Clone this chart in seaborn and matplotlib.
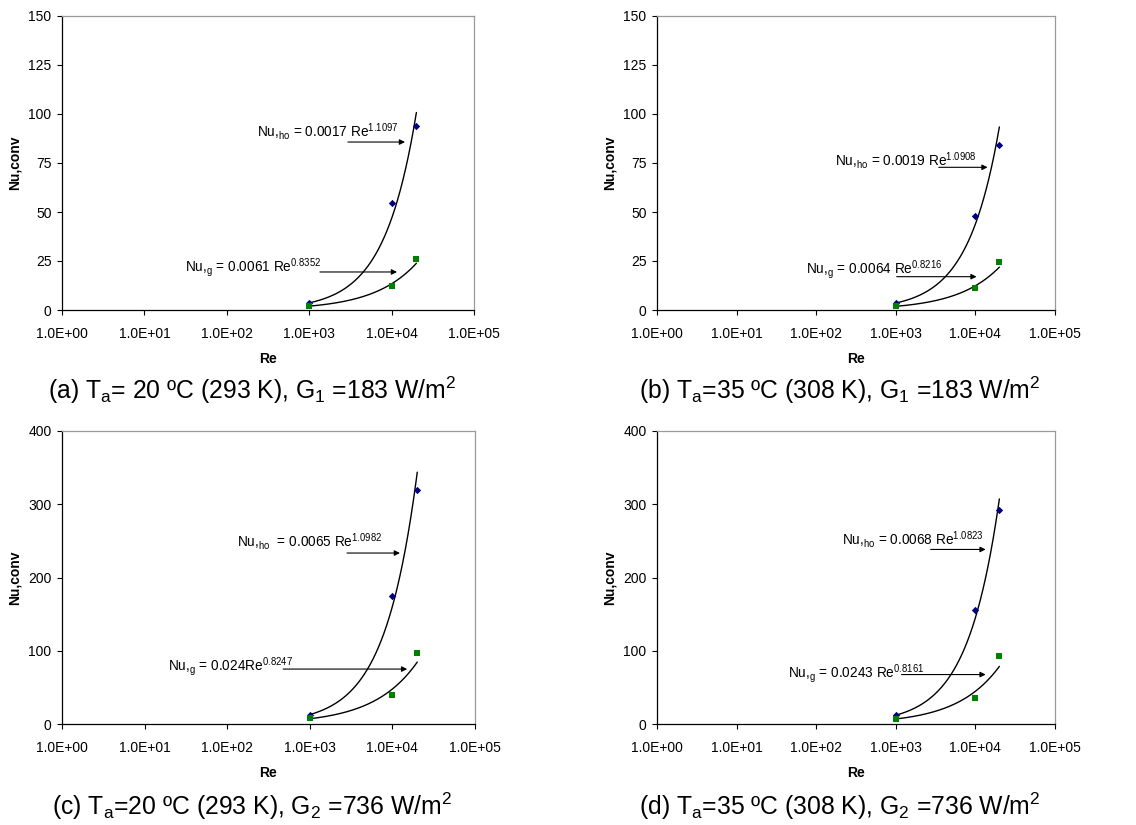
import numpy as np
import pandas as pd
import matplotlib
matplotlib.use("Agg")
import matplotlib.pyplot as plt
from matplotlib.ticker import FixedLocator, FuncFormatter, NullLocator
import seaborn as sns

# Measured Reynolds numbers
re_points = [1000, 10000, 20000]

# Convective Nusselt numbers: (a) Ta=20 C G1, (b) Ta=35 C G1, (c) Ta=20 C G2, (d) Ta=35 C G2
nu_ho_a = [3.5, 54.5, 94.0]
nu_g_a = [2.0, 12.0, 26.0]
nu_ho_b = [3.5, 48.0, 84.0]
nu_g_b = [2.0, 11.0, 24.5]
nu_ho_c = [12.0, 175.0, 320.0]
nu_g_c = [8.0, 40.0, 97.0]
nu_ho_d = [12.0, 155.0, 292.0]
nu_g_d = [7.0, 36.0, 93.0]

# Power-law fits Nu = a * Re^b
fit_ho_a = [0.0017, 1.1097]
fit_g_a = [0.0061, 0.8352]
fit_ho_b = [0.0019, 1.0908]
fit_g_b = [0.0064, 0.8216]
fit_ho_c = [0.0065, 1.0982]
fit_g_c = [0.024, 0.8247]
fit_ho_d = [0.0068, 1.0823]
fit_g_d = [0.0243, 0.8161]

x_ticks = [1e0, 1e1, 1e2, 1e3, 1e4, 1e5]
y_ticks_g1 = [0, 25, 50, 75, 100, 125, 150]
y_ticks_g2 = [0, 100, 200, 300, 400]

captions = [
    r"(a) T$_\mathregular{a}$= 20 ºC (293 K), G$_\mathregular{1}$ =183 W/m$^\mathregular{2}$",
    r"(b) T$_\mathregular{a}$=35 ºC (308 K), G$_\mathregular{1}$ =183 W/m$^\mathregular{2}$",
    r"(c) T$_\mathregular{a}$=20 ºC (293 K), G$_\mathregular{2}$ =736 W/m$^\mathregular{2}$",
    r"(d) T$_\mathregular{a}$=35 ºC (308 K), G$_\mathregular{2}$ =736 W/m$^\mathregular{2}$",
]

sns.set_style("ticks")
plt.rcParams["font.family"] = ["Liberation Sans", "DejaVu Sans"]
plt.rcParams["mathtext.fontset"] = "custom"
plt.rcParams["mathtext.rm"] = "Liberation Sans"
plt.rcParams["mathtext.it"] = "Liberation Sans:italic"
plt.rcParams["mathtext.bf"] = "Liberation Sans:bold"
plt.rcParams["text.color"] = "black"
plt.rcParams["axes.labelcolor"] = "black"
plt.rcParams["xtick.color"] = "black"
plt.rcParams["ytick.color"] = "black"

W, H = 1136, 825
fig = plt.figure(figsize=(W / 100, H / 100), dpi=100)
fig.patch.set_facecolor("white")

def px_axes(left, top, right, bottom):
    return fig.add_axes([left / W, 1 - bottom / H, (right - left) / W, (bottom - top) / H])

panels = [
    dict(box=(62, 16, 474, 310), ho=nu_ho_a, g=nu_g_a, fho=fit_ho_a, fg=fit_g_a, yticks=y_ticks_g1,
         ho_fmt="Nu,$_\\mathregular{{ho}}$ = {a} Re$^\\mathregular{{{b}}}$",
         g_fmt="Nu,$_\\mathregular{{g}}$ = {a} Re$^\\mathregular{{{b}}}$",
         ho_txt=(10**2.37, 88.4), ho_arr=((2950, 85.7), (14550, 85.7)),
         g_txt=(10**1.49, 19.6), g_arr=((1350, 19.4), (11640, 19.4)),
         cap=(252, 399)),
    dict(box=(657, 16, 1055, 310), ho=nu_ho_b, g=nu_g_b, fho=fit_ho_b, fg=fit_g_b, yticks=y_ticks_g1,
         ho_fmt="Nu,$_\\mathregular{{ho}}$ = {a} Re$^\\mathregular{{{b}}}$",
         g_fmt="Nu,$_\\mathregular{{g}}$ = {a} Re$^\\mathregular{{{b}}}$",
         ho_txt=(10**2.23, 73.6), ho_arr=((3460, 72.8), (14220, 72.8)),
         g_txt=(10**1.87, 18.7), g_arr=((1025, 17.0), (10350, 17.0)),
         cap=(840, 399)),
    dict(box=(62, 431, 475, 724), ho=nu_ho_c, g=nu_g_c, fho=fit_ho_c, fg=fit_g_c, yticks=y_ticks_g2,
         ho_fmt="Nu,$_\\mathregular{{ho}}$  = {a} Re$^\\mathregular{{{b}}}$",
         g_fmt="Nu,$_\\mathregular{{g}}$ = {a}Re$^\\mathregular{{{b}}}$",
         ho_txt=(10**2.12, 242.5), ho_arr=((2820, 233.4), (12340, 233.4)),
         g_txt=(10**1.28, 72.7), g_arr=((475, 75.0), (15100, 75.0)),
         cap=(252, 815)),
    dict(box=(657, 431, 1055, 724), ho=nu_ho_d, g=nu_g_d, fho=fit_ho_d, fg=fit_g_d, yticks=y_ticks_g2,
         ho_fmt="Nu,$_\\mathregular{{ho}}$ = {a} Re$^\\mathregular{{{b}}}$",
         g_fmt="Nu,$_\\mathregular{{g}}$ = {a} Re$^\\mathregular{{{b}}}$",
         ho_txt=(10**2.33, 245.2), ho_arr=((2740, 238.3), (13450, 238.3)),
         g_txt=(10**1.64, 63.4), g_arr=((1180, 67.5), (13450, 67.5)),
         cap=(840, 815)),
]

navy = "#000080"
green = "#008000"

for p, cap in zip(panels, captions):
    ax = px_axes(*p["box"])
    ax.set_facecolor("white")

    # Fitted power-law curves over the measured range
    re_fit = np.geomspace(re_points[0], re_points[-1], 200)
    for a, b in (p["fho"], p["fg"]):
        sns.lineplot(x=re_fit, y=a * re_fit ** b, ax=ax, color="black", lw=1.0,
                     estimator=None, sort=False)

    pts = pd.DataFrame({"Re": re_points, "ho": p["ho"], "g": p["g"]})
    sns.scatterplot(data=pts, x="Re", y="ho", ax=ax, marker="D", color=navy, s=14,
                    linewidth=0, zorder=3)
    sns.scatterplot(data=pts, x="Re", y="g", ax=ax, marker="s", color=green, s=22,
                    linewidth=0, zorder=3)

    ax.set_xscale("log")
    ax.set_xlim(x_ticks[0], x_ticks[-1])
    ax.set_ylim(p["yticks"][0], p["yticks"][-1])
    ax.xaxis.set_major_locator(FixedLocator(x_ticks))
    ax.xaxis.set_minor_locator(NullLocator())
    ax.xaxis.set_major_formatter(FuncFormatter(lambda v, pos: f"{v:.1E}"))
    ax.set_yticks(p["yticks"])
    ax.tick_params(axis="both", direction="out", length=3.5, width=0.8, color="black",
                   labelsize=10, labelcolor="black")
    ax.tick_params(axis="x", pad=8.5)
    ax.tick_params(axis="y", pad=4)

    for side in ("left", "bottom"):
        ax.spines[side].set_color("black")
        ax.spines[side].set_linewidth(0.9)
    for side in ("top", "right"):
        ax.spines[side].set_visible(True)
        ax.spines[side].set_color("#9a9a9a")
        ax.spines[side].set_linewidth(0.9)

    ax.set_xlabel("Re", fontsize=10, fontweight="bold", labelpad=8)
    ax.set_ylabel("Nu,conv", fontsize=10, fontweight="bold", labelpad=5)

    # Fit equations with arrows
    ho_label = p["ho_fmt"].format(a=f"{p['fho'][0]:g}", b=f"{p['fho'][1]:g}")
    g_label = p["g_fmt"].format(a=f"{p['fg'][0]:g}", b=f"{p['fg'][1]:g}")
    ax.text(*p["ho_txt"], ho_label, fontsize=9.8, ha="left", va="baseline")
    ax.text(*p["g_txt"], g_label, fontsize=9.8, ha="left", va="baseline")
    for tail, head in (p["ho_arr"], p["g_arr"]):
        ax.annotate("", xy=head, xytext=tail,
                    arrowprops=dict(arrowstyle="-|>", color="black", lw=0.8,
                                    mutation_scale=8, shrinkA=0, shrinkB=0))

    cx, cy = p["cap"]
    fig.text(cx / W, 1 - cy / H, cap, fontsize=17.8, ha="center", va="baseline")

fig.savefig("out.png", dpi=100, facecolor="white")
